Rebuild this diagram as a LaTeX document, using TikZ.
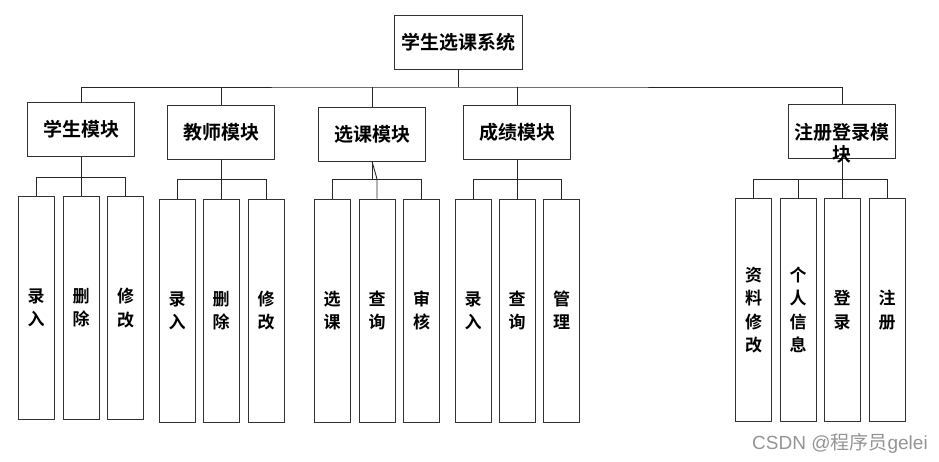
\documentclass[tikz,border=0pt]{standalone}
\usepackage{fontspec}
\setmainfont{Noto Sans CJK SC}[BoldFont={Noto Sans CJK SC Bold}]
\newfontfamily\wmlat{Liberation Sans}
\usepackage{tikz}
\usetikzlibrary{positioning, calc}
\tikzset{
	conn/.style={line width=0.9pt, draw=black!85},
	% box helpers
	boxline/.style={draw=black!80, line width=0.9pt, inner sep=0pt},
}

\begin{document}
\begin{tikzpicture}[x=1pt, y=-1pt,
			hd/.style={boxline, minimum width=107pt, minimum height=54pt, font=\bfseries\fontsize{19}{22}\selectfont},
			leaf/.style={boxline, minimum width=36pt, minimum height=223pt, align=center, font=\bfseries\fontsize{17}{23.3}\selectfont}]
			\useasboundingbox (0,0) rectangle (939,462);
			\node[hd, minimum width=128pt] (sys) at (458,42) {学生选课系统};
			\node[hd] (stu) at (81,129.5) {学生模块};
			\node[hd] (tea) at (221,132) {教师模块};
			\node[hd] (sel) at (372,134) {选课模块};
			\node[hd] (sco) at (517,132) {成绩模块};
			\node[hd] (reg) at (842,131.5) {};
			% leaves
			\node[leaf] (stu1) at (36,308) {录\\入};
			\node[leaf] (stu2) at (81,308) {删\\除};
			\node[leaf] (stu3) at (125.5,308) {修\\改};
			\node[leaf] (tea1) at (177,310.5) {录\\入};
			\node[leaf] (tea2) at (221,310.5) {删\\除};
			\node[leaf] (tea3) at (266,310.5) {修\\改};
			\node[leaf] (sel1) at (332,310.5) {选\\课};
			\node[leaf] (sel2) at (377,310.5) {查\\询};
			\node[leaf] (sel3) at (421.5,310.5) {审\\核};
			\node[leaf] (sco1) at (473,310.5) {录\\入};
			\node[leaf] (sco2) at (517,310.5) {查\\询};
			\node[leaf] (sco3) at (561.5,310.5) {管\\理};
			\node[leaf] (reg1) at (753.5,310) {资\\料\\修\\改};
			\node[leaf] (reg2) at (798,310) {个\\人\\信\\息};
			\node[leaf] (reg3) at (842,310) {登\\录};
			\node[leaf] (reg4) at (887,310) {注\\册};
			% top level lines
			\coordinate (bus) at (458,87);
			\draw[conn] (sys.south) -- (bus);
			\draw[conn] (stu.north) |- (bus) -| (reg.north);
			\draw[conn] (tea.north) -- (tea.north |- bus);
			\draw[conn] (sel.north) -- (sel.north |- bus);
			\draw[conn] (sco.north) -- (sco.north |- bus);
			% second level lines
			\coordinate (sbs) at (0,177);
			\coordinate (sb) at (0,179);
			\draw[conn] (stu1.north) |- (stu3.north |- sbs) -- (stu3.north);
			\draw[conn] (stu.south) -- (stu2.north);
			\draw[conn] (tea1.north) |- (tea3.north |- sb) -- (tea3.north);
			\draw[conn] (tea.south) -- (tea2.north);
			\draw[conn] (sel1.north) |- (sel3.north |- sb) -- (sel3.north);
			\draw[conn] (sel.south) -- (sel.south |- sb);
			\draw[conn] (sel.south) -- (sel2.north |- sb) -- (sel2.north);
			\draw[conn] (sco1.north) |- (sco3.north |- sb) -- (sco3.north);
			\draw[conn] (sco.south) -- (sco2.north);
			\draw[conn] (reg1.north) |- (reg4.north |- sb) -- (reg4.north);
			\draw[conn] (reg2.north) -- (reg2.north |- sb);
			\draw[conn] (reg.south) -- (reg3.north);
			\node[inner sep=0pt, align=center, font=\bfseries\fontsize{19}{22}\selectfont] (regt) at (842,143) {注册登录模\\块};
			\node[inner sep=0pt, anchor=west, text=black!42, font=\fontsize{19}{19}\selectfont] (wm) at (752,443) {{\wmlat CSDN @}程序员{\wmlat gelei}};
		\end{tikzpicture}
\end{document}
